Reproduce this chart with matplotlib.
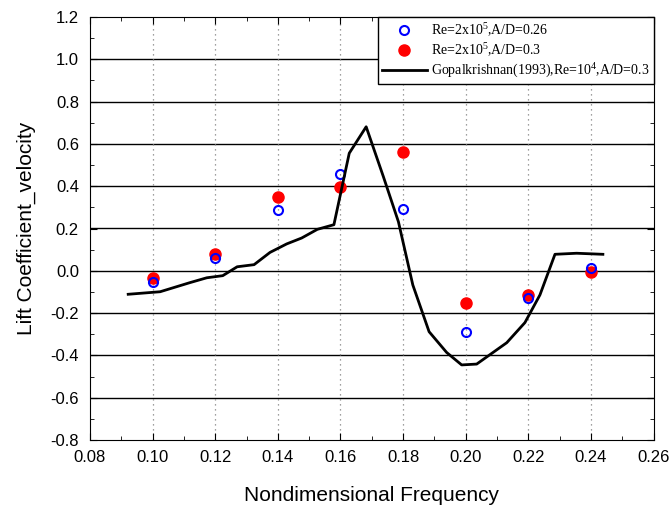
import matplotlib.pyplot as plt
import numpy as np

plt.rcParams["font.family"] = ["Liberation Sans", "DejaVu Sans"]
plt.rcParams["mathtext.fontset"] = "custom"
plt.rcParams["mathtext.rm"] = "Liberation Serif"
plt.rcParams["mathtext.it"] = "Liberation Serif:italic"

# measured points
freq = [0.10, 0.12, 0.14, 0.16, 0.18, 0.20, 0.22, 0.24]
cl_026 = [-0.055, 0.059, 0.286, 0.458, 0.294, -0.288, -0.127, 0.015]
cl_030 = [-0.033, 0.079, 0.350, 0.398, 0.560, -0.154, -0.114, -0.004]

# Gopalkrishnan (1993)
gop_f = [0.0922, 0.1024, 0.1119, 0.1173, 0.1224, 0.1270, 0.1324, 0.1375, 0.1428,
         0.1476, 0.1526, 0.1579, 0.1628, 0.1682, 0.1737, 0.1785, 0.1831, 0.1883,
         0.1939, 0.1987, 0.2035, 0.2131, 0.2189, 0.2237, 0.2285, 0.2354, 0.2438]
gop_cl = [-0.111, -0.099, -0.056, -0.033, -0.023, 0.019, 0.029, 0.087, 0.127,
          0.155, 0.196, 0.218, 0.556, 0.681, 0.445, 0.232, -0.067, -0.288,
          -0.386, -0.445, -0.441, -0.340, -0.245, -0.114, 0.078, 0.083, 0.078]

fig = plt.figure(figsize=(6.71, 5.09), dpi=100)
ax = fig.add_axes([90 / 671, 1 - 440 / 509, (653.6 - 90) / 671, 423 / 509])

ax.plot(freq, cl_026, "o", mfc="none", mec="blue", mew=1.5, ms=6.5,
        label="Re=2x10$^5$,A/D=0.26", zorder=4)
ax.plot(freq, cl_030, "o", color="red", ms=8,
        label="Re=2x10$^5$,A/D=0.3", zorder=3)
ax.plot(gop_f, gop_cl, "-", color="black", lw=2,
        label="Gopalkrishnan(1993),Re=10$^4$,A/D=0.3", zorder=5)

ax.set_xlim(0.08, 0.26)
ax.set_ylim(-0.8, 1.2)
ax.set_xticks(np.arange(0.08, 0.261, 0.02))
ax.set_yticks(np.arange(-0.8, 1.21, 0.2))
ax.set_xticks(np.arange(0.09, 0.26, 0.02), minor=True)
ax.set_yticks(np.arange(-0.7, 1.2, 0.2), minor=True)
ax.set_xticklabels(["%.2f" % v for v in np.arange(0.08, 0.261, 0.02)])
ax.set_yticklabels(["%.1f" % v if abs(v) > 1e-9 else "0.0" for v in np.arange(-0.8, 1.21, 0.2)])

ax.tick_params(which="both", direction="in", top=True, right=True, labelsize=12)
ax.tick_params(which="major", length=5)
ax.tick_params(which="minor", length=3)
ax.tick_params(axis="x", pad=7)
ax.tick_params(axis="y", pad=8)

for y in np.arange(-0.6, 1.1, 0.2):
    ax.axhline(y, color="black", lw=1, zorder=1)
for x in np.arange(0.10, 0.25, 0.02):
    ax.axvline(x, color="gray", lw=0.9, ls=(0, (1, 3)), zorder=1)

ax.set_xlabel("Nondimensional Frequency", fontsize=15, labelpad=15)
ax.set_ylabel("Lift Coefficient_velocity", fontsize=15, labelpad=10)

leg = ax.legend(loc="upper right", bbox_to_anchor=(1.0, 1.0), fancybox=False,
                edgecolor="black", framealpha=1,
                prop={"family": "Liberation Serif", "size": 10},
                borderaxespad=0.0, handlelength=3.2, handletextpad=0.3,
                labelspacing=0.2, borderpad=0.3)
leg.get_frame().set_linewidth(1.0)

fig.savefig("out.png", dpi=100)
